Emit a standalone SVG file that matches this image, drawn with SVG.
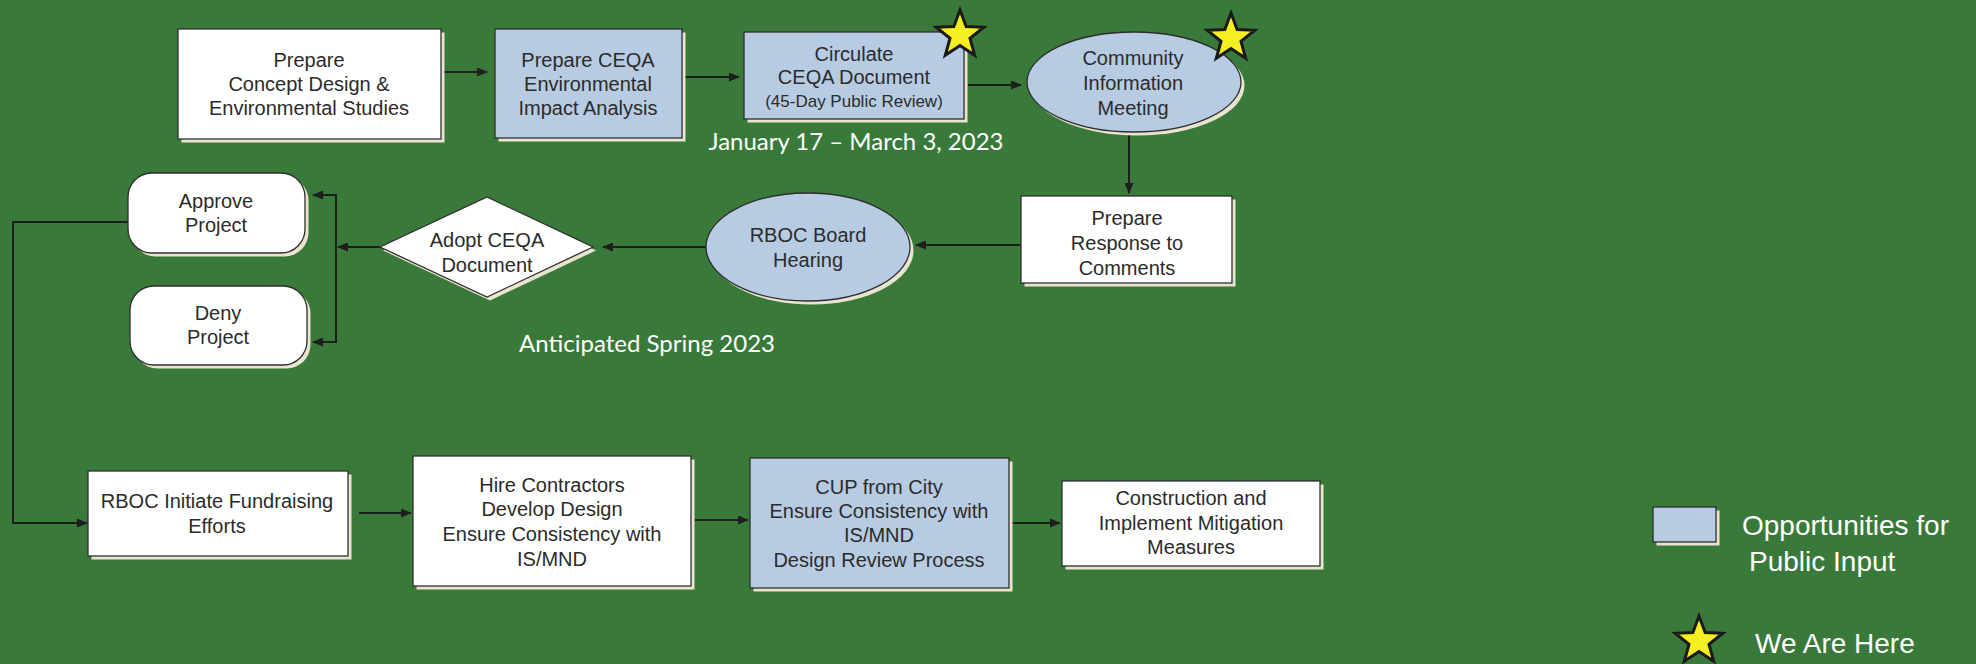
<svg xmlns="http://www.w3.org/2000/svg" xmlns:xlink="http://www.w3.org/1999/xlink" width="1976" height="664" viewBox="0 0 1976 664">
  <style>
    .box { stroke: #2e2e2e; stroke-width: 1.3; }
    .white { fill: #ffffff; }
    .blue { fill: #b7cbe2; }
    .shadow { fill: #e8e4d0; stroke: none; }
    .lbl { font-family: "Liberation Sans", Arial, sans-serif; font-size: 20px; fill: #2b2b2b; text-anchor: middle; }
    .small { font-size: 17px; }
    .date { font-family: Lato, "Open Sans", sans-serif; font-size: 24px; fill: #ffffff; text-anchor: middle; }
    .legend { font-family: "Liberation Sans", Arial, sans-serif; font-size: 28px; fill: #ffffff; }
    .conn { fill: none; stroke: #1e1e1e; stroke-width: 2; }
    .star { fill: #f6ef1f; stroke: #1a1a1a; stroke-width: 3; stroke-linejoin: miter; }
  </style>
  <defs>
    <marker id="arrow" markerUnits="userSpaceOnUse" markerWidth="11" markerHeight="9" refX="10" refY="4.5" orient="auto">
      <path d="M0,0 L11,4.5 L0,9 z" fill="#1e1e1e"/>
    </marker>
    <polygon id="starShape" points="0,-25 6.17,-8.49 23.78,-7.73 9.99,3.24 14.69,20.23 0,10.5 -14.69,20.23 -9.99,3.24 -23.78,-7.73 -6.17,-8.49"/>
  </defs>

  <!-- background -->
  <rect x="0" y="0" width="1976" height="664" fill="#397a3a"/>

  <!-- connectors -->
  <g id="connectors">
    <line class="conn" x1="443" y1="72" x2="487" y2="72" marker-end="url(#arrow)"/>
    <line class="conn" x1="685" y1="77" x2="739" y2="77" marker-end="url(#arrow)"/>
    <line class="conn" x1="968" y1="85" x2="1021" y2="85" marker-end="url(#arrow)"/>
    <line class="conn" x1="1129" y1="135" x2="1129" y2="193" marker-end="url(#arrow)"/>
    <line class="conn" x1="1021" y1="245" x2="916" y2="245" marker-end="url(#arrow)"/>
    <line class="conn" x1="706" y1="247" x2="603" y2="247" marker-end="url(#arrow)"/>
    <line class="conn" x1="380" y1="247" x2="338" y2="247" marker-end="url(#arrow)"/>
    <polyline class="conn" points="336,195 336,342"/>
    <line class="conn" x1="337" y1="195" x2="313" y2="195" marker-end="url(#arrow)"/>
    <line class="conn" x1="337" y1="342" x2="313" y2="342" marker-end="url(#arrow)"/>
    <polyline class="conn" points="128,222 13,222 13,523 87,523" marker-end="url(#arrow)"/>
    <line class="conn" x1="359" y1="513" x2="411" y2="513" marker-end="url(#arrow)"/>
    <line class="conn" x1="695" y1="520" x2="748" y2="520" marker-end="url(#arrow)"/>
    <line class="conn" x1="1010" y1="523" x2="1060" y2="523" marker-end="url(#arrow)"/>
  </g>

  <!-- top row -->
  <g id="concept-design">
    <rect class="shadow" x="181.5" y="32.5" width="263" height="110"/>
    <rect class="box white" x="178" y="29" width="263" height="110"/>
    <text class="lbl" x="309" y="67">Prepare</text>
    <text class="lbl" x="309" y="91">Concept Design &amp;</text>
    <text class="lbl" x="309" y="115">Environmental Studies</text>
  </g>

  <g id="ceqa-analysis">
    <rect class="shadow" x="498.5" y="32.5" width="187" height="109"/>
    <rect class="box blue" x="495" y="29" width="187" height="109"/>
    <text class="lbl" x="588" y="67">Prepare CEQA</text>
    <text class="lbl" x="588" y="91">Environmental</text>
    <text class="lbl" x="588" y="115">Impact Analysis</text>
  </g>

  <g id="circulate-ceqa">
    <rect class="shadow" x="747.5" y="35.5" width="220" height="87"/>
    <rect class="box blue" x="744" y="32" width="220" height="87"/>
    <text class="lbl" x="854" y="61">Circulate</text>
    <text class="lbl" x="854" y="84">CEQA Document</text>
    <text class="lbl small" x="854" y="107">(45-Day Public Review)</text>
    <use xlink:href="#starShape" class="star" x="960" y="35"/>
  </g>

  <text class="date" x="856" y="150" textLength="295" lengthAdjust="spacingAndGlyphs">January 17 – March 3, 2023</text>

  <g id="community-meeting">
    <ellipse class="shadow" cx="1137.5" cy="85.5" rx="107" ry="50"/>
    <ellipse class="box blue" cx="1134" cy="82" rx="107" ry="50"/>
    <text class="lbl" x="1133" y="65">Community</text>
    <text class="lbl" x="1133" y="90">Information</text>
    <text class="lbl" x="1133" y="115">Meeting</text>
    <use xlink:href="#starShape" class="star" x="1231" y="38"/>
  </g>

  <!-- middle row -->
  <g id="response-comments">
    <rect class="shadow" x="1024.5" y="199.5" width="211" height="87"/>
    <rect class="box white" x="1021" y="196" width="211" height="87"/>
    <text class="lbl" x="1127" y="225">Prepare</text>
    <text class="lbl" x="1127" y="250">Response to</text>
    <text class="lbl" x="1127" y="275">Comments</text>
  </g>

  <g id="board-hearing">
    <ellipse class="shadow" cx="811.5" cy="250.5" rx="102" ry="54"/>
    <ellipse class="box blue" cx="808" cy="247" rx="102" ry="54"/>
    <text class="lbl" x="808" y="242">RBOC Board</text>
    <text class="lbl" x="808" y="267">Hearing</text>
  </g>

  <g id="adopt-ceqa">
    <polygon class="shadow" points="383,250.5 490,200.5 596,250.5 490,300.5"/>
    <polygon class="box white" points="380,247 487,197 593,247 487,297"/>
    <text class="lbl" x="487" y="247">Adopt CEQA</text>
    <text class="lbl" x="487" y="272">Document</text>
  </g>

  <g id="approve-project">
    <rect class="shadow" x="131.5" y="176.5" width="177" height="80" rx="24"/>
    <rect class="box white" x="128" y="173" width="177" height="80" rx="24"/>
    <text class="lbl" x="216" y="208">Approve</text>
    <text class="lbl" x="216" y="232">Project</text>
  </g>

  <g id="deny-project">
    <rect class="shadow" x="133.5" y="289.5" width="177" height="79" rx="24"/>
    <rect class="box white" x="130" y="286" width="177" height="79" rx="24"/>
    <text class="lbl" x="218" y="320">Deny</text>
    <text class="lbl" x="218" y="344">Project</text>
  </g>

  <text class="date" x="647" y="352" textLength="256" lengthAdjust="spacingAndGlyphs">Anticipated Spring 2023</text>

  <!-- bottom row -->
  <g id="fundraising">
    <rect class="shadow" x="91.5" y="474.5" width="260" height="85"/>
    <rect class="box white" x="88" y="471" width="260" height="85"/>
    <text class="lbl" x="217" y="508">RBOC Initiate Fundraising</text>
    <text class="lbl" x="217" y="533">Efforts</text>
  </g>

  <g id="hire-contractors">
    <rect class="shadow" x="416.5" y="459.5" width="278" height="130"/>
    <rect class="box white" x="413" y="456" width="278" height="130"/>
    <text class="lbl" x="552" y="492">Hire Contractors</text>
    <text class="lbl" x="552" y="516">Develop Design</text>
    <text class="lbl" x="552" y="541">Ensure Consistency with</text>
    <text class="lbl" x="552" y="566">IS/MND</text>
  </g>

  <g id="cup-city">
    <rect class="shadow" x="753.5" y="461.5" width="259" height="130"/>
    <rect class="box blue" x="750" y="458" width="259" height="130"/>
    <text class="lbl" x="879" y="494">CUP from City</text>
    <text class="lbl" x="879" y="518">Ensure Consistency with</text>
    <text class="lbl" x="879" y="542">IS/MND</text>
    <text class="lbl" x="879" y="567">Design Review Process</text>
  </g>

  <g id="construction">
    <rect class="shadow" x="1065.5" y="484.5" width="258" height="85"/>
    <rect class="box white" x="1062" y="481" width="258" height="85"/>
    <text class="lbl" x="1191" y="505">Construction and</text>
    <text class="lbl" x="1191" y="530">Implement Mitigation</text>
    <text class="lbl" x="1191" y="554">Measures</text>
  </g>

  <!-- legend -->
  <g id="legend">
    <rect class="shadow" x="1656.5" y="510.5" width="63" height="35"/>
    <rect class="box blue" x="1653" y="507" width="63" height="35"/>
    <text class="legend" x="1742" y="535">Opportunities for</text>
    <text class="legend" x="1749" y="571">Public Input</text>
    <use xlink:href="#starShape" class="star" x="1699" y="641"/>
    <text class="legend" x="1755" y="653">We Are Here</text>
  </g>
</svg>
